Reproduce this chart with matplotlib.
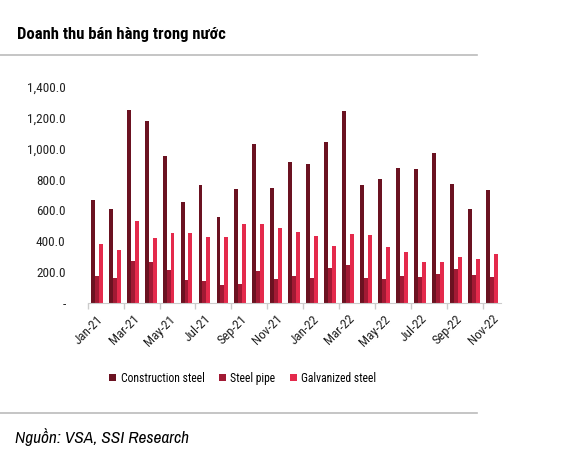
import matplotlib
matplotlib.use("Agg")
import matplotlib.pyplot as plt
from matplotlib.lines import Line2D
import numpy as np

months = ["Jan-21", "Feb-21", "Mar-21", "Apr-21", "May-21", "Jun-21", "Jul-21", "Aug-21",
          "Sep-21", "Oct-21", "Nov-21", "Dec-21", "Jan-22", "Feb-22", "Mar-22", "Apr-22",
          "May-22", "Jun-22", "Jul-22", "Aug-22", "Sep-22", "Oct-22", "Nov-22"]
construction = [667, 608, 1249, 1180, 953, 652, 764, 556, 736, 1030, 745, 912, 903,
                1046, 1245, 762, 803, 875, 866, 972, 771, 606, 732]
pipe = [173, 158, 273, 264, 212, 147, 139, 115, 119, 208, 152, 173, 158,
        223, 243, 162, 154, 173, 167, 186, 219, 180, 165]
galvanized = [383, 342, 533, 418, 455, 450, 427, 429, 511, 509, 483, 461, 433,
              370, 444, 437, 362, 329, 266, 264, 295, 282, 314]
series_names = ["Construction steel", "Steel pipe", "Galvanized steel"]
yticks = [0, 200, 400, 600, 800, 1000, 1200, 1400]

colors = ["#6B1221", "#A11A34", "#E42A4C"]
FONT = ["Roboto Condensed", "Archivo Narrow", "DejaVu Sans"]
plt.rcParams["font.family"] = FONT

fig = plt.figure(figsize=(5.85, 4.68), dpi=100)
ax = fig.add_axes([0.150, 0.353, 0.706, 0.461])

x = np.arange(len(months))
w = 0.22
for off, vals, c, n in zip([-w, 0, w], [construction, pipe, galvanized], colors, series_names):
    ax.bar(x + off, vals, width=w, color=c, label=n, linewidth=0)

ax.set_xlim(-0.5, len(months) - 0.5)
ax.set_ylim(0, 1400)
ax.set_yticks(yticks)
ax.set_yticklabels(["-" if v == 0 else f"{v:,.1f}" for v in yticks], fontsize=9.5)
ax.tick_params(axis="y", length=0, pad=16, colors="#222222")

ax.set_xticks(x[::2])
ax.set_xticklabels(months[::2], rotation=45, ha="right", rotation_mode="anchor", fontsize=9.5)
ax.set_xticks(np.arange(-0.5, len(months), 2), minor=True)
ax.tick_params(axis="x", which="major", length=0, pad=7, colors="#222222")
ax.tick_params(axis="x", which="minor", length=4, color="#CCCCCC", width=1)

for s in ["top", "right", "left"]:
    ax.spines[s].set_visible(False)
ax.spines["bottom"].set_color("#CCCCCC")

leg = fig.legend(loc="center", bbox_to_anchor=(0.415, 0.192), ncol=3, frameon=False,
                 fontsize=8.4, handlelength=0.6, handleheight=0.6, handletextpad=0.4,
                 columnspacing=1.2)

fig.text(17 / 585, 1 - 35 / 468, "Doanh thu bán hàng trong nước", fontsize=12,
         fontweight="bold", va="center", ha="left")
fig.add_artist(Line2D([0, 477 / 585], [1 - 55 / 468] * 2, color="#BBBBBB", lw=1.2,
                      transform=fig.transFigure))
fig.add_artist(Line2D([0, 477 / 585], [1 - 413 / 468] * 2, color="#BBBBBB", lw=1.2,
                      transform=fig.transFigure))
fig.text(15 / 585, 1 - 437 / 468, "Nguồn: VSA, SSI Research", fontsize=12.5,
         fontstyle="italic", va="center", ha="left",
         family=["Archivo Narrow", "Roboto Condensed", "DejaVu Sans"])

fig.savefig("out.png", dpi=100)
